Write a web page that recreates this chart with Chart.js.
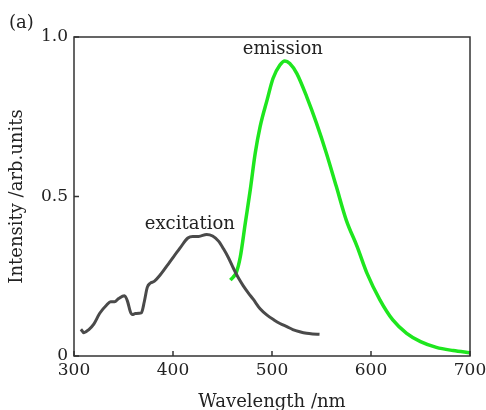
<!DOCTYPE html>
<html>
<head>
<meta charset="utf-8">
<script src="https://cdn.jsdelivr.net/npm/chart.js@4/dist/chart.umd.min.js"></script>
<style>
  html, body { margin: 0; padding: 0; background: #fff; }
  #wrap { width: 486px; height: 410px; }
</style>
</head>
<body>
<div id="wrap"><canvas id="c" width="486" height="410"></canvas></div>
<script>
// Excitation spectrum (wavelength in nm, normalised intensity)
const exWavelength = [307, 310, 315, 320, 326, 333, 337, 341, 345, 351, 354, 357, 359, 362, 368, 371, 374, 377, 381, 387, 397, 407, 415, 420, 426, 434, 440, 446, 451, 456, 461, 466, 471, 476, 481, 488, 495, 502, 508, 515, 521, 528, 535, 541, 548];
const exIntensity  = [0.084, 0.073, 0.083, 0.100, 0.134, 0.160, 0.170, 0.170, 0.180, 0.189, 0.172, 0.138, 0.130, 0.133, 0.135, 0.170, 0.215, 0.228, 0.234, 0.254, 0.296, 0.338, 0.370, 0.375, 0.375, 0.381, 0.376, 0.360, 0.336, 0.308, 0.275, 0.245, 0.220, 0.198, 0.178, 0.148, 0.128, 0.113, 0.102, 0.092, 0.083, 0.076, 0.071, 0.069, 0.068];

// Emission spectrum
const emWavelength = [458, 461, 464, 468, 473, 478, 483, 488, 495, 501, 508, 513, 518, 525, 535, 545, 555, 565, 575, 586, 596, 609, 622, 636, 650, 666, 683, 700];
const emIntensity  = [0.238, 0.248, 0.262, 0.311, 0.416, 0.520, 0.635, 0.719, 0.802, 0.870, 0.912, 0.925, 0.917, 0.886, 0.813, 0.729, 0.635, 0.531, 0.426, 0.343, 0.259, 0.176, 0.113, 0.071, 0.045, 0.027, 0.017, 0.010];

// Axis ticks
const xTicks = [300, 400, 500, 600, 700];
const yTicks = [0, 0.5, 1.0];
const yTickLabels = ['0', '0.5', '1.0'];

// Curve labels: [text, wavelength, intensity]
const curveLabels = [
  ['excitation', 417, 0.414],
  ['emission', 511, 0.962]
];
const panelTag = '(a)';

const FONT = 'DejaVu Serif';
const INK = '#222';

const pairs = (xs, ys) => xs.map((x, i) => ({ x, y: ys[i] }));

// Box around the plot area plus short inward tick marks
const framePlugin = {
  id: 'frame',
  afterDatasetsDraw(chart) {
    const { ctx, chartArea: a, scales } = chart;
    ctx.save();
    ctx.strokeStyle = '#333';
    ctx.lineWidth = 1.5;
    ctx.strokeRect(a.left, a.top, a.right - a.left, a.bottom - a.top);
    ctx.beginPath();
    xTicks.forEach(v => {
      const px = scales.x.getPixelForValue(v);
      ctx.moveTo(px, a.bottom);
      ctx.lineTo(px, a.bottom - 5);
    });
    yTicks.forEach(v => {
      const py = scales.y.getPixelForValue(v);
      ctx.moveTo(a.left, py);
      ctx.lineTo(a.left + 5, py);
    });
    ctx.stroke();
    ctx.restore();
  }
};

// Text labels placed in data coordinates, and the panel tag
const textPlugin = {
  id: 'texts',
  afterDraw(chart) {
    const { ctx, scales } = chart;
    ctx.save();
    ctx.fillStyle = INK;
    ctx.font = `18px "${FONT}"`;
    ctx.textAlign = 'center';
    ctx.textBaseline = 'middle';
    curveLabels.forEach(([t, x, y]) => {
      ctx.fillText(t, scales.x.getPixelForValue(x), scales.y.getPixelForValue(y));
    });
    ctx.textAlign = 'left';
    ctx.fillText(panelTag, 9, 23);
    ctx.restore();
  }
};

new Chart(document.getElementById('c'), {
  type: 'line',
  data: {
    datasets: [
      {
        label: 'excitation',
        data: pairs(exWavelength, exIntensity),
        borderColor: '#4a4a4a',
        borderWidth: 3,
        pointRadius: 0,
        cubicInterpolationMode: 'monotone',
        fill: false
      },
      {
        label: 'emission',
        data: pairs(emWavelength, emIntensity),
        borderColor: '#1ee61e',
        borderWidth: 3.5,
        pointRadius: 0,
        cubicInterpolationMode: 'monotone',
        fill: false
      }
    ]
  },
  options: {
    responsive: false,
    animation: false,
    layout: { padding: { top: 37, right: 16, left: 0, bottom: 0 } },
    plugins: {
      legend: { display: false },
      tooltip: { enabled: false }
    },
    scales: {
      x: {
        type: 'linear',
        min: 300,
        max: 700,
        afterBuildTicks: s => { s.ticks = xTicks.map(v => ({ value: v })); },
        afterFit: s => { s.height = 54; s.paddingLeft = 0; s.paddingRight = 0; },
        ticks: {
          color: INK,
          padding: 4,
          font: { family: FONT, size: 17 },
          maxRotation: 0
        },
        grid: { display: false, drawTicks: false },
        border: { display: false },
        title: {
          display: true,
          text: 'Wavelength /nm',
          color: INK,
          font: { family: FONT, size: 18 },
          padding: { top: 0, bottom: -3 }
        }
      },
      y: {
        min: 0,
        max: 1,
        afterBuildTicks: s => { s.ticks = yTicks.map(v => ({ value: v })); },
        afterFit: s => { s.width = 74; s.paddingTop = 0; s.paddingBottom = 0; },
        ticks: {
          color: INK,
          padding: 6,
          font: { family: FONT, size: 17 },
          callback: (v) => yTickLabels[yTicks.indexOf(v)]
        },
        grid: { display: false, drawTicks: false },
        border: { display: false },
        title: {
          display: true,
          text: 'Intensity /arb.units',
          color: INK,
          font: { family: FONT, size: 18 },
          padding: { top: 7, bottom: 0 }
        }
      }
    }
  },
  plugins: [framePlugin, textPlugin]
});
</script>
</body>
</html>
